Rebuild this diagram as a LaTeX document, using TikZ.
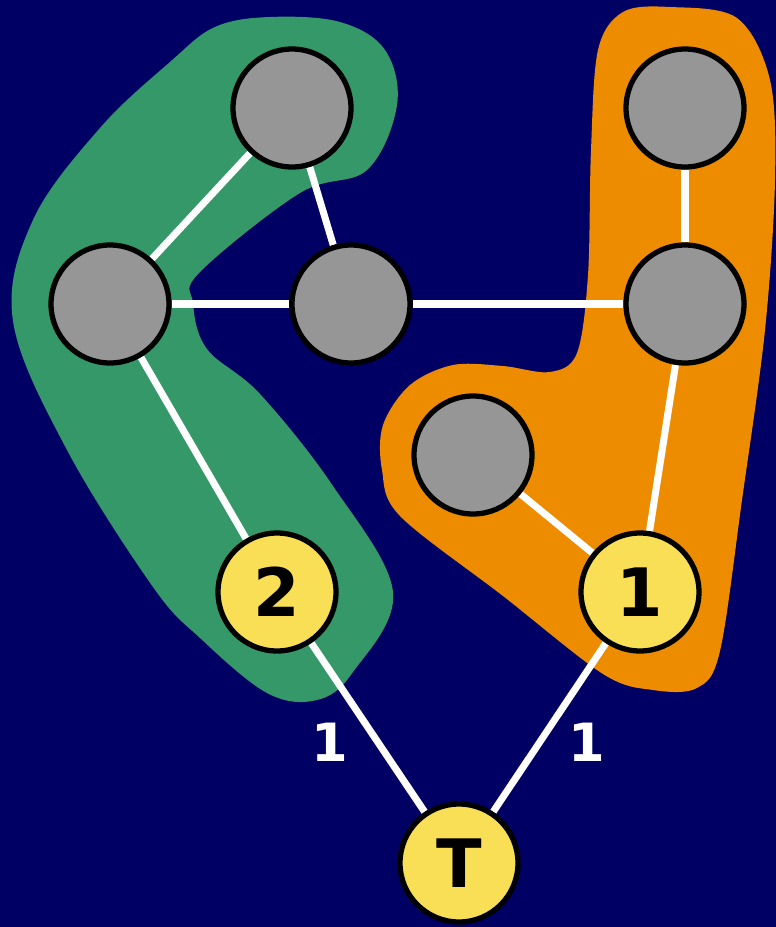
\documentclass[tikz,border=0pt]{standalone}
\usepackage{fontspec}
\setsansfont{DejaVu Sans}
\usetikzlibrary{positioning, backgrounds}

\definecolor{navy}{RGB}{0,0,100}
\definecolor{teamgreen}{RGB}{52,152,104}
\definecolor{teamorange}{RGB}{238,140,0}
\definecolor{vertexgray}{RGB}{150,150,150}
\definecolor{termyellow}{RGB}{249,223,85}

\begin{document}
\begin{tikzpicture}[
    x=0.02cm, y=-0.02cm,
    font=\sffamily\bfseries,
    vertex/.style={
        circle,
        draw=black,
        line width=3pt,
        fill=vertexgray,
        minimum size=2.36cm,
        inner sep=0pt
    },
    terminal/.style={
        vertex,
        fill=termyellow,
        font=\sffamily\bfseries\fontsize{38}{38}\selectfont
    },
    link/.style={
        draw=white,
        line width=4pt
    },
    weight/.style={
        text=white,
        font=\sffamily\bfseries\fontsize{30}{30}\selectfont
    }
]

    % Vertices
    \node[vertex] (a) at (292,108) {};
    \node[vertex] (b) at (110,304) {};
    \node[vertex] (c) at (351,304) {};
    \node[vertex] (d) at (685,108) {};
    \node[vertex] (e) at (685,304) {};
    \node[vertex] (f) at (473,455) {};

    % Terminals
    \node[terminal] (two) at (277,592) {2};
    \node[terminal] (one) at (640,592) {1};
    \node[terminal] (t) at (459,863) {T};

    % Edge weights
    \node[weight] (w_left) at (330,742) {1};
    \node[weight] (w_right) at (587,742) {1};

    \begin{pgfonlayer}{background}
        % Background and canvas size
        \fill[navy] (0,0) rectangle (776,927);
        \useasboundingbox (0,0) rectangle (776,927);

        % Green region
        \fill[teamgreen] plot[smooth cycle, tension=0.6] coordinates {
            (215,27) (270,17) (340,22) (385,50) (397,105) (367,170) (300,193)
            (200,272) (193,303) (207,349) (260,394) (333,486) (393,592)
            (353,672) (317,700) (267,693) (200,638) (153,587) (67,450)
            (13,321) (33,220) (100,128) (170,62)};

        % Orange region
        \fill[teamorange] plot[smooth cycle, tension=0.55] coordinates {
            (670,7) (737,18) (770,80) (775,180) (765,330) (742,500)
            (720,651) (697,688) (653,690) (603,674) (503,596) (400,516)
            (382,470) (383,425) (410,385) (453,365) (503,366) (550,372)
            (577,353) (588,275) (591,150) (598,50) (623,12)};

        % Edges
        \path[link] (a) -- (b);
        \path[link] (a) -- (c);
        \path[link] (b) -- (c);
        \path[link] (c) -- (e);
        \path[link] (d) -- (e);
        \path[link] (e) -- (one);
        \path[link] (f) -- (one);
        \path[link] (b) -- (two);
        \path[link] (two) -- (t);
        \path[link] (one) -- (t);
    \end{pgfonlayer}

\end{tikzpicture}
\end{document}
